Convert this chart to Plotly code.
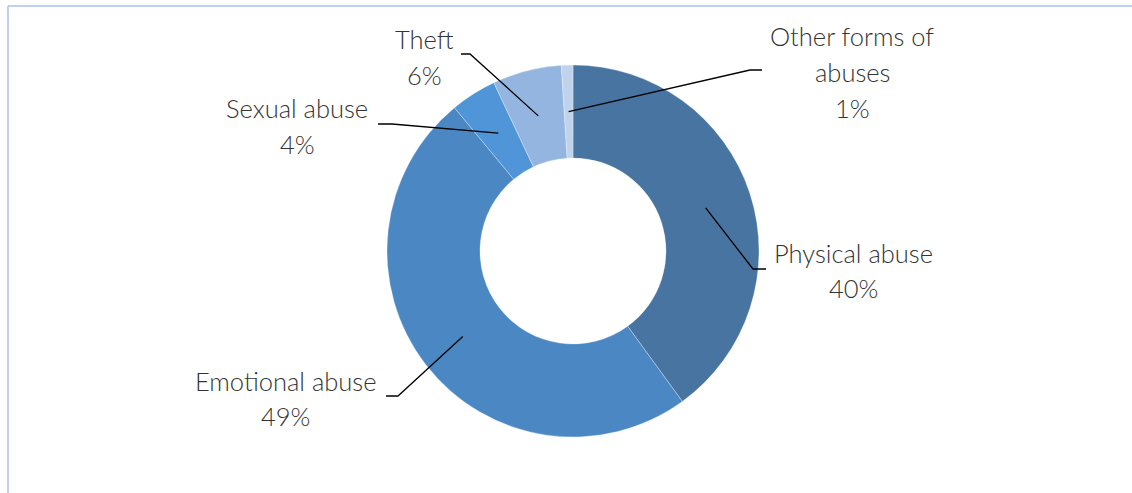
import math
import plotly.graph_objects as go

# Share of reported abuse cases by type (percent)
categories = ["Physical abuse", "Emotional abuse", "Sexual abuse", "Theft", "Other forms of abuses"]
shares = [40, 49, 4, 6, 1]
label_lines = [["Physical abuse"], ["Emotional abuse"], ["Sexual abuse"], ["Theft"], ["Other forms of", "abuses"]]
slice_colors = ["#4874A2", "#4B88C3", "#4F95D8", "#94B5DF", "#C0D3EC"]

W, H = 1132, 493
CX, CY, R = 573, 251, 186          # donut centre and outer radius, px
HOLE = 0.5

# Label placement (px): text centre x, first-line y, leader elbow and end
label_layout = [
    dict(x=853, y=252.5, elbow=(753, 269), end=(766, 269)),
    dict(x=285, y=380.5, elbow=(398, 396), end=(386, 396)),
    dict(x=297, y=108.5, elbow=(392, 124), end=(378, 124)),
    dict(x=424, y=39.5, elbow=(470, 54), end=(461, 54)),
    dict(x=852, y=36.5, elbow=(750, 70), end=(762, 70)),
]
LINE_GAP = 35.5
TEXT_COLOR = "#333333"
FONT = "Lato"


def px(x):
    return x / W


def py(y):
    return 1 - y / H


fig = go.Figure(go.Pie(
    labels=categories,
    values=shares,
    hole=HOLE,
    sort=False,
    direction="clockwise",
    rotation=0,
    textinfo="none",
    hoverinfo="label+percent",
    marker=dict(colors=slice_colors, line=dict(color="rgba(255,255,255,0.5)", width=0.6)),
    domain=dict(x=[px(CX - 200), px(CX + 200)], y=[py(CY + R), py(CY - R)]),
    showlegend=False,
))

shapes = []
annotations = []
total = sum(shares)
cum = 0.0
for name_lines, val, lay in zip(label_lines, shares, label_layout):
    mid = (cum + val / 2) / total * 2 * math.pi
    cum += val
    r_anchor = R * (1 + HOLE) / 2
    ax = CX + r_anchor * math.sin(mid)
    ay = CY - r_anchor * math.cos(mid)
    ex, ey = lay["elbow"]
    nx, ny = lay["end"]
    shapes.append(dict(type="path", xref="paper", yref="paper",
                       path=f"M {px(ax)},{py(ay)} L {px(ex)},{py(ey)} L {px(nx)},{py(ny)}",
                       line=dict(color="#000000", width=1.3)))
    lines = name_lines + [f"{val}%"]
    for i, txt in enumerate(lines):
        annotations.append(dict(x=px(lay["x"]), y=py(lay["y"] + i * LINE_GAP),
                                xref="paper", yref="paper", text=txt, showarrow=False,
                                xanchor="center", yanchor="middle",
                                font=dict(family=FONT, size=25.5, color=TEXT_COLOR, weight=300)))

# chart frame (top and left edges visible)
frame = dict(color="#A9C2E8", width=1.5)
shapes.append(dict(type="line", xref="paper", yref="paper", x0=px(8), y0=py(6), x1=px(W + 5), y1=py(6), line=frame))
shapes.append(dict(type="line", xref="paper", yref="paper", x0=px(8), y0=py(6), x1=px(8), y1=py(H + 5), line=frame))

fig.update_layout(
    width=W, height=H,
    margin=dict(l=0, r=0, t=0, b=0),
    paper_bgcolor="white",
    plot_bgcolor="white",
    shapes=shapes,
    annotations=annotations,
)

fig.write_html("out.html")
